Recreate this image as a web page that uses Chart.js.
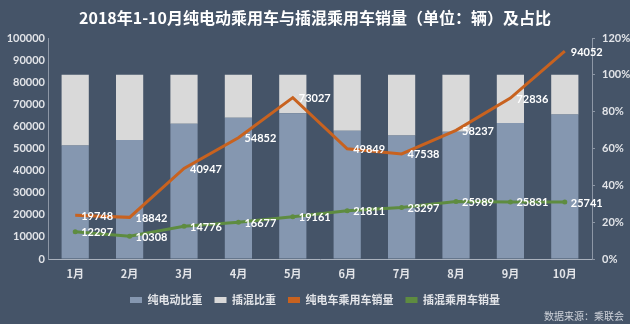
<!DOCTYPE html>
<html><head><meta charset="utf-8">
<script src="https://cdn.jsdelivr.net/npm/chart.js@4"></script>
<style>html,body{margin:0;padding:0;background:#455468;}#wrap{width:630px;height:324px;}</style>
</head><body><div id="wrap"><canvas id="c" width="630" height="324"></canvas></div>
<script>
const months = ['1月','2月','3月','4月','5月','6月','7月','8月','9月','10月'];
const bevSales = [19748, 18842, 40947, 54852, 73027, 49849, 47538, 58237, 72836, 94052];
const phevSales = [12297, 10308, 14776, 16677, 19161, 21811, 23297, 25989, 25831, 25741];
const bevShare = [61.6, 64.6, 73.5, 76.7, 79.2, 69.6, 67.1, 69.1, 73.8, 78.5];
const phevShare = [38.4, 35.4, 26.5, 23.3, 20.8, 30.4, 32.9, 30.9, 26.2, 21.5];
const titleText = '2018年1-10月纯电动乘用车与插混乘用车销量（单位：辆）及占比';
const sourceText = '数据来源：乘联会';

const numFont = "Lato, 'Noto Sans CJK SC', sans-serif";
const cjkFont = "'Noto Sans CJK SC', Lato, sans-serif";
const txt = '#e2e4e8';

const labelPlugin = {
  id: 'vals',
  afterDatasetsDraw(chart) {
    const ctx = chart.ctx;
    ctx.save();
    ctx.font = 'bold 11px ' + numFont;
    ctx.fillStyle = '#ffffff';
    ctx.textAlign = 'left';
    ctx.textBaseline = 'middle';
    chart.data.datasets.forEach((ds, i) => {
      if (ds.type !== 'line') return;
      const meta = chart.getDatasetMeta(i);
      meta.data.forEach((pt, j) => {
        ctx.fillText(String(ds.data[j]), pt.x + 6, pt.y + 1);
      });
    });
    ctx.restore();
  },
  afterDraw(chart) {
    const ctx = chart.ctx;
    ctx.save();
    ctx.font = '10px ' + cjkFont;
    ctx.fillStyle = '#cfd3da';
    ctx.textAlign = 'right';
    ctx.textBaseline = 'middle';
    ctx.fillText(sourceText, 624, 316);
    ctx.restore();
  }
};

new Chart(document.getElementById('c'), {
  data: {
    labels: months,
    datasets: [
      { type: 'bar', label: '纯电动比重', data: bevShare, yAxisID: 'y2', stack: 's',
        backgroundColor: '#8597b0', borderWidth: 0, order: 2,
        categoryPercentage: 1, barPercentage: 0.5 },
      { type: 'bar', label: '插混比重', data: phevShare, yAxisID: 'y2', stack: 's',
        backgroundColor: '#d9d9d9', borderWidth: 0, order: 2,
        categoryPercentage: 1, barPercentage: 0.5 },
      { type: 'line', label: '纯电车乘用车销量', data: bevSales, yAxisID: 'y',
        borderColor: '#c8621f', backgroundColor: '#c8621f', borderWidth: 3,
        pointRadius: 0, tension: 0, order: 1 },
      { type: 'line', label: '插混乘用车销量', data: phevSales, yAxisID: 'y',
        borderColor: '#5e8c40', backgroundColor: '#5e8c40', borderWidth: 3,
        pointRadius: 2.5, pointBackgroundColor: '#5e8c40', pointBorderWidth: 0,
        tension: 0, order: 1 }
    ]
  },
  options: {
    responsive: false,
    animation: false,
    layout: { padding: { top: 0, bottom: 8.5, left: 0, right: 0 } },
    plugins: {
      tooltip: { enabled: false },
      title: {
        display: true, text: titleText, color: '#ffffff',
        font: { family: cjkFont, size: 16, weight: 'bold' },
        padding: { top: 8, bottom: 10.8 }
      },
      legend: {
        position: 'bottom',
        labels: {
          color: txt, boxWidth: 12, boxHeight: 6, padding: 12,
          font: { family: cjkFont, size: 11, weight: 'bold' },
          sort: (a, b) => a.datasetIndex - b.datasetIndex,
          generateLabels(chart) {
            const items = Chart.defaults.plugins.legend.labels.generateLabels(chart);
            items.forEach(it => { it.lineWidth = 0; });
            return items;
          }
        }
      }
    },
    scales: {
      x: {
        stacked: true,
        grid: { display: false, drawTicks: false },
        border: { display: true, color: '#a9b1bd', width: 1 },
        ticks: { color: txt, padding: 8, font: { family: cjkFont, size: 11, weight: 'bold' } },
        afterFit(s) { s.height = 23.5; }
      },
      y: {
        position: 'left', min: 0, max: 100000,
        grid: { display: false, drawTicks: false },
        border: { display: true, color: '#8d97a6', width: 1 },
        ticks: { stepSize: 10000, color: txt, padding: 3, callback: v => String(v),
          font: { family: numFont, size: 11, weight: 'bold' } },
        afterFit(s) { s.width = 48; }
      },
      y2: {
        position: 'right', min: 0, max: 120, stacked: true,
        grid: { display: true, drawOnChartArea: false, drawTicks: true, tickLength: 3, color: '#8d97a6' },
        border: { display: true, color: '#8d97a6', width: 1 },
        ticks: { stepSize: 20, color: txt, padding: 7, callback: v => v + '%',
          font: { family: numFont, size: 11, weight: 'bold' } },
        afterFit(s) { s.width = 38; }
      }
    }
  },
  plugins: [labelPlugin]
});
</script>
</body></html>
